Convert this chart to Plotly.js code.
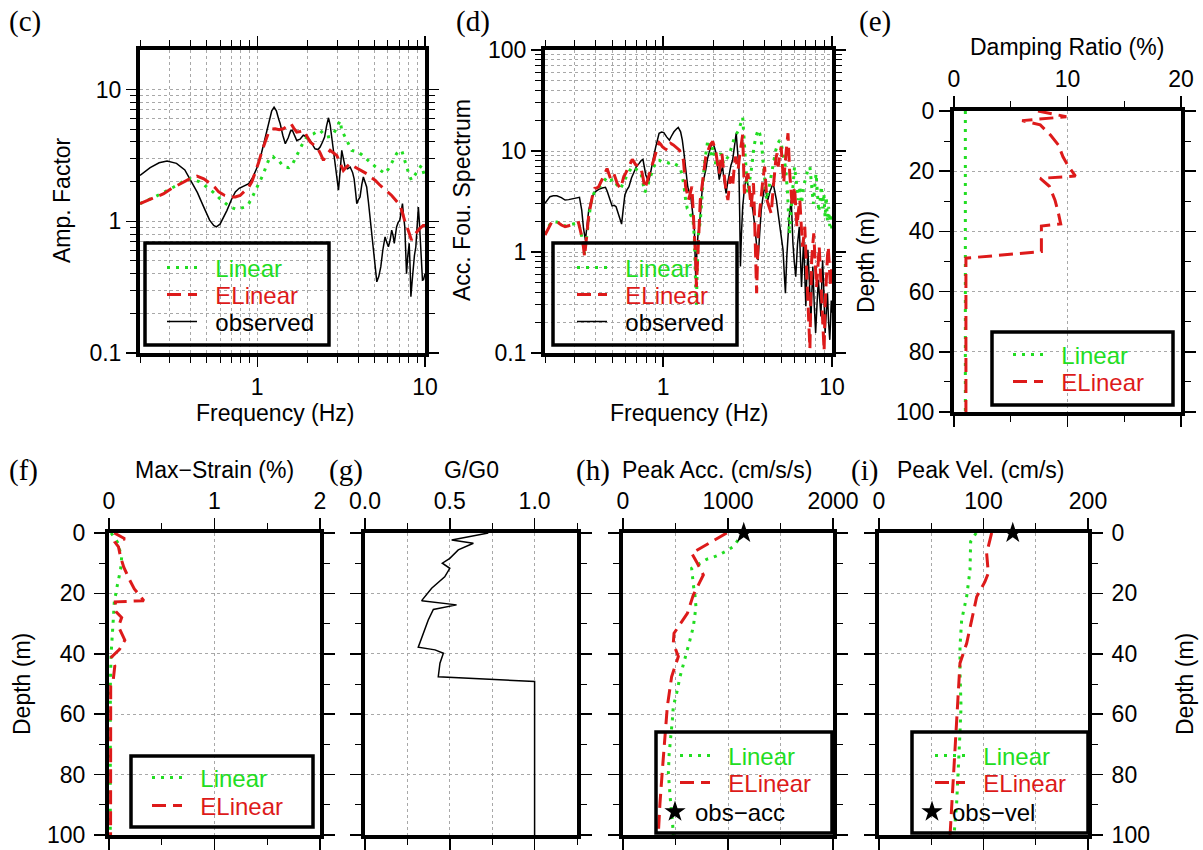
<!DOCTYPE html>
<html><head><meta charset="utf-8">
<script src="https://cdn.plot.ly/plotly-3.0.1.min.js"></script>
<style>html,body{margin:0;padding:0;background:#fff;} #chart{width:1203px;height:850px;}</style>
</head><body><div id="chart"></div>
<script>
// ---------------- DATA ----------------
// (c) amplification factor
const ampFreqObserved = [0.2,0.23,0.26,0.29,0.33,0.37,0.40,0.44,0.48,0.52,0.55,0.57,0.60,0.63,0.66,0.70,0.74,0.78,0.83,0.89,0.94,1.0,1.06,1.12,1.18,1.22,1.26,1.30,1.34,1.37,1.42,1.47,1.53,1.58,1.62,1.67,1.72,1.80,1.88,1.95,2.02,2.07,2.14,2.21,2.30,2.37,2.45,2.52,2.59,2.66,2.72,2.78,2.84,2.91,2.98,3.05,3.12,3.19,3.26,3.34,3.45,3.58,3.70,3.78,3.85,3.92,4.0,4.1,4.2,4.29,4.38,4.49,4.6,4.75,4.9,5.05,5.16,5.3,5.45,5.6,5.78,5.9,6.05,6.2,6.33,6.45,6.56,6.66,6.77,6.92,7.08,7.22,7.34,7.45,7.58,7.67,7.76,7.9,8.05,8.15,8.24,8.38,8.51,8.65,8.82,8.95,9.13,9.25,9.4,9.55,9.66,9.8,10.0];
const ampObserved = [2.23,2.55,2.78,2.86,2.75,2.45,2.05,1.65,1.28,1.02,0.93,0.906,0.95,1.07,1.21,1.45,1.67,1.78,1.84,1.93,2.15,2.58,3.3,4.35,5.7,6.9,7.35,6.9,6.0,5.5,4.5,3.88,4.3,4.85,4.9,4.5,4.1,4.2,4.5,4.4,4.2,4.1,3.8,3.55,3.5,3.66,4.0,4.35,5.3,6.1,5.4,4.35,3.3,2.58,2.0,1.72,2.4,3.45,3.0,2.58,2.5,2.58,2.35,2.1,1.7,1.36,1.45,1.53,1.9,2.17,2.0,1.82,1.4,0.96,0.65,0.42,0.347,0.38,0.45,0.6,0.76,0.7,0.64,0.72,0.855,0.78,0.68,0.78,0.905,0.98,1.02,1.2,1.36,1.1,0.905,0.6,0.40,0.55,0.68,0.45,0.267,0.35,0.45,0.55,0.64,0.9,1.28,1.0,0.72,0.5,0.357,0.36,0.40];
const ampFreqELinear = [0.2,0.24,0.277,0.31,0.348,0.39,0.437,0.48,0.525,0.56,0.589,0.64,0.69,0.74,0.79,0.84,0.89,0.93,0.97,1.02,1.07,1.12,1.17,1.22,1.28,1.35,1.43,1.51,1.59,1.65,1.72,1.80,1.89,1.98,2.07,2.17,2.27,2.37,2.48,2.6,2.72,2.85,2.98,3.12,3.26,3.42,3.58,3.78,4.0,4.24,4.49,4.76,5.04,5.34,5.65,5.98,6.33,6.7,7.1,7.35,7.6,7.95,8.3,8.6,8.9,9.3,9.75,10];
const ampELinear = [1.36,1.5,1.62,1.78,1.93,2.08,2.2,2.1,1.93,1.8,1.67,1.57,1.53,1.53,1.57,1.68,1.82,2.0,2.3,2.8,3.45,4.1,4.75,5.0,5.03,4.95,5.03,5.3,5.5,5.1,4.75,4.8,4.9,4.4,3.99,3.8,3.66,3.3,2.9,3.2,3.45,3.3,3.16,2.75,2.43,2.6,2.74,2.6,2.5,2.4,2.3,2.15,2.05,1.9,1.77,1.67,1.57,1.45,1.32,1.15,0.99,0.85,0.72,0.78,0.83,0.88,0.93,0.93];
const ampFreqLinear = [0.2,0.25,0.318,0.36,0.40,0.45,0.50,0.55,0.60,0.65,0.69,0.74,0.79,0.84,0.89,0.94,1.0,1.05,1.09,1.14,1.19,1.24,1.29,1.34,1.40,1.47,1.54,1.61,1.66,1.72,1.78,1.84,1.90,1.97,2.06,2.16,2.26,2.37,2.48,2.6,2.72,2.84,2.95,3.05,3.12,3.19,3.3,3.42,3.54,3.66,3.83,4.0,4.2,4.39,4.6,4.82,5.05,5.28,5.53,5.78,6.05,6.33,6.55,6.77,7.0,7.26,7.5,7.76,8.0,8.3,8.6,8.9,9.2,9.52,9.75,10];
const ampLinear = [1.36,1.55,1.82,2.0,2.1,2.0,1.82,1.65,1.48,1.35,1.28,1.24,1.25,1.28,1.36,1.55,1.82,2.05,2.3,2.7,3.06,3.1,2.95,2.9,2.7,2.58,2.55,2.66,2.9,3.16,3.45,3.76,4.05,4.35,4.5,4.6,4.8,4.9,4.6,4.35,4.4,4.6,5.0,5.5,5.8,4.9,4.5,4.1,3.7,3.45,3.4,3.35,3.2,3.06,2.9,2.74,2.6,2.5,2.4,2.3,2.5,2.74,3.0,3.26,3.4,3.45,3.0,2.58,2.3,2.05,2.2,2.3,2.5,2.66,2.4,2.15];

// (d) acceleration Fourier spectrum
const fouFreqObserved = [0.2,0.207,0.214,0.224,0.235,0.25,0.263,0.276,0.289,0.305,0.32,0.33,0.338,0.347,0.355,0.363,0.376,0.389,0.402,0.416,0.436,0.456,0.467,0.477,0.488,0.499,0.513,0.527,0.537,0.547,0.558,0.568,0.58,0.594,0.61,0.628,0.65,0.672,0.695,0.72,0.74,0.76,0.775,0.79,0.808,0.825,0.842,0.86,0.882,0.905,0.925,0.947,0.98,1.01,1.05,1.09,1.12,1.16,1.2,1.23,1.27,1.30,1.33,1.36,1.38,1.40,1.43,1.46,1.49,1.53,1.545,1.56,1.58,1.61,1.64,1.67,1.71,1.75,1.79,1.83,1.88,1.92,1.97,2.01,2.06,2.1,2.15,2.2,2.25,2.3,2.36,2.41,2.47,2.52,2.58,2.64,2.71,2.76,2.81,2.84,2.87,2.91,2.96,3.03,3.11,3.18,3.25,3.32,3.40,3.48,3.56,3.65,3.72,3.81,3.9,3.99,4.08,4.17,4.3,4.48,4.58,4.69,4.8,4.9,5.02,5.13,5.22,5.3,5.4,5.49,5.6,5.74,5.8,5.87,5.98,6.1,6.25,6.4,6.5,6.6,6.7,6.8,6.9,7.0,7.1,7.2,7.35,7.5,7.6,7.7,7.85,8.0,8.15,8.3,8.45,8.6,8.7,8.8,8.95,9.1,9.25,9.4,9.55,9.7,9.8,9.9,10];
const fouObserved = [3.03,3.3,3.53,3.6,3.6,3.45,3.27,3.3,3.37,3.42,3.48,2.6,1.72,1.31,1.9,2.6,3.3,3.81,4.0,4.17,4.3,4.37,4.0,3.67,3.2,2.86,2.9,2.81,2.55,2.32,2.1,1.89,2.6,3.67,4.1,4.43,5.4,6.24,7.0,7.5,8.0,8.27,7.0,5.79,5.3,5.16,6.0,7.0,9.0,11.0,13.2,15.0,15.4,15.2,13.8,12.8,14.0,15.5,16.5,17.1,15.5,12.8,9.5,7.0,5.6,4.4,3.9,3.5,2.6,1.78,1.0,0.57,0.9,1.5,1.78,3.0,4.43,5.5,6.5,8.3,10.2,11.2,11.9,11.0,9.5,7.0,5.2,6.2,7.0,5.0,3.8,4.8,6.0,7.2,8.1,11.0,15.0,10.0,7.0,2.5,0.72,1.5,2.81,4.2,5.6,4.6,3.8,3.1,2.6,1.9,1.31,0.83,1.4,2.6,3.5,4.4,3.8,3.27,4.0,4.8,4.0,3.27,2.4,1.78,1.4,1.05,0.6,0.39,0.9,1.53,2.4,3.27,2.0,1.22,0.8,0.57,1.2,1.78,0.9,0.45,0.8,1.31,0.6,0.29,0.6,1.05,0.5,0.21,0.4,0.72,0.3,0.158,0.3,0.53,0.35,0.23,0.5,0.83,0.4,0.158,0.25,0.39,0.2,0.135,0.2,0.33,0.25];
const fouFreqELinear = [0.2,0.21,0.22,0.23,0.24,0.25,0.263,0.276,0.289,0.302,0.316,0.325,0.334,0.343,0.348,0.354,0.362,0.371,0.382,0.394,0.405,0.416,0.431,0.446,0.456,0.466,0.477,0.488,0.499,0.51,0.522,0.534,0.547,0.56,0.573,0.586,0.6,0.613,0.635,0.657,0.672,0.688,0.712,0.737,0.76,0.78,0.793,0.806,0.825,0.845,0.875,0.905,0.925,0.947,0.97,0.99,1.02,1.06,1.085,1.11,1.15,1.19,1.22,1.25,1.29,1.32,1.34,1.36,1.39,1.41,1.43,1.46,1.48,1.5,1.53,1.545,1.56,1.575,1.59,1.62,1.64,1.66,1.69,1.71,1.75,1.79,1.83,1.88,1.92,1.97,2.01,2.06,2.1,2.15,2.19,2.23,2.27,2.31,2.36,2.42,2.46,2.5,2.54,2.58,2.63,2.68,2.73,2.78,2.84,2.9,2.96,2.99,3.03,3.1,3.18,3.25,3.32,3.38,3.43,3.48,3.53,3.56,3.58,3.62,3.66,3.73,3.81,3.9,3.99,4.05,4.12,4.24,4.37,4.47,4.58,4.66,4.73,4.8,4.88,4.95,5.0,5.09,5.18,5.24,5.3,5.4,5.49,5.55,5.62,5.72,5.82,5.9,6.0,6.1,6.2,6.32,6.45,6.58,6.7,6.8,6.9,7.0,7.1,7.25,7.4,7.5,7.58,7.7,7.8,7.95,8.1,8.25,8.4,8.55,8.7,8.85,8.98,9.1,9.25,9.4,9.5,9.65,9.8,9.9,10];
const fouELinear = [1.47,1.75,2.0,2.0,1.95,1.85,1.78,1.82,1.85,1.9,1.95,1.6,1.31,0.9,1.2,1.65,2.2,2.8,3.6,4.27,4.3,4.43,5.1,5.8,6.2,6.7,6.0,5.36,5.7,6.0,5.4,4.8,4.5,4.27,4.9,5.6,6.0,6.5,7.4,8.27,7.8,7.3,7.2,7.0,5.5,4.27,4.6,5.0,5.8,6.5,8.0,9.5,11.0,12.1,11.6,11.0,10.6,10.2,11.0,11.9,11.5,11.0,10.6,10.2,9.0,8.1,6.0,4.43,3.8,3.27,3.5,4.2,4.43,3.0,1.78,1.1,0.83,0.45,0.6,1.13,2.0,3.27,4.0,4.6,6.5,8.8,10.0,11.0,11.8,12.4,11.0,9.5,7.5,6.0,7.8,9.5,7.0,5.2,4.0,3.27,4.3,5.6,5.0,4.43,6.5,8.8,7.5,6.5,9.0,11.9,14.5,8.0,3.8,5.0,6.0,4.0,2.8,3.8,4.8,2.2,1.05,0.6,0.39,0.8,1.53,2.5,3.8,5.2,7.0,5.0,3.27,2.8,2.4,4.0,7.0,8.5,9.5,7.0,8.5,10.0,11.0,7.0,4.8,6.5,8.8,11.5,15.0,9.0,6.0,4.0,2.8,3.5,4.43,2.8,1.78,2.5,3.27,1.8,1.13,1.4,1.78,1.0,0.61,0.3,0.11,0.4,0.83,1.2,1.53,0.8,0.45,0.7,1.13,0.6,0.29,0.18,0.105,0.3,0.61,0.9,1.13,0.7,0.45,0.6,0.8];
const fouFreqLinear = [0.2,0.21,0.22,0.235,0.25,0.263,0.276,0.289,0.302,0.316,0.325,0.334,0.343,0.35,0.36,0.371,0.382,0.394,0.41,0.43,0.446,0.466,0.488,0.51,0.534,0.56,0.586,0.613,0.635,0.657,0.688,0.712,0.737,0.76,0.78,0.806,0.845,0.875,0.905,0.925,0.947,0.99,1.03,1.08,1.12,1.17,1.22,1.25,1.29,1.33,1.36,1.39,1.42,1.46,1.5,1.53,1.56,1.575,1.59,1.62,1.66,1.71,1.75,1.8,1.84,1.88,1.93,1.97,2.02,2.06,2.12,2.2,2.28,2.36,2.45,2.55,2.65,2.8,2.9,2.96,3.03,3.1,3.17,3.25,3.35,3.45,3.55,3.66,3.73,3.81,3.92,4.0,4.1,4.2,4.35,4.5,4.65,4.8,4.9,5.0,5.15,5.3,5.45,5.6,5.72,5.85,6.0,6.15,6.3,6.45,6.6,6.8,7.0,7.2,7.4,7.5,7.6,7.75,7.9,8.05,8.2,8.35,8.5,8.65,8.8,8.95,9.1,9.25,9.4,9.55,9.7,9.85,10];
const fouLinear = [1.5,1.8,2.0,1.98,1.9,1.8,1.85,1.88,1.92,1.95,1.6,1.3,0.95,1.3,2.0,2.8,3.5,4.0,4.2,4.6,5.0,5.5,5.1,5.3,4.6,4.2,5.0,5.8,6.4,7.0,6.6,6.4,6.2,5.0,3.9,4.4,5.6,6.8,7.6,8.1,8.1,7.8,7.8,7.6,7.8,7.5,7.2,7.0,6.0,4.5,3.27,2.7,2.6,2.3,2.24,1.4,0.45,0.3,0.6,1.53,2.0,4.4,7.0,10.0,12.8,11.5,9.0,11.0,8.0,7.0,8.5,9.5,7.5,8.1,9.0,11.0,13.8,16.0,20.0,21.5,11.9,7.0,3.8,5.0,7.0,11.0,14.0,16.2,15.0,12.8,7.0,5.0,3.27,4.0,5.5,8.0,10.2,12.0,12.8,11.9,9.0,7.0,4.0,1.5,2.5,4.5,7.0,5.0,3.27,4.5,3.0,4.5,5.5,6.5,7.0,5.6,4.5,3.0,4.43,6.0,3.8,2.5,3.27,4.5,2.7,3.8,2.2,3.5,2.0,2.8,1.8,2.4,1.53];

// (e) damping ratio profile
const dampDepthLinear = [0, 100];
const dampLinear = [1.0, 1.0];
const dampDepthELinear = [0, 1.9, 3.2, 4.6, 8, 11.3, 15.2, 18.5, 21.6, 22.4, 25, 29.6, 34, 37.5, 38.2, 46.7, 48.9, 100];
const dampELinear = [7.4, 9.9, 6.0, 7.6, 8.5, 9.2, 9.6, 10.1, 10.7, 7.6, 8.4, 8.9, 9.2, 9.4, 7.7, 7.7, 1.05, 1.05];

// (f) maximum strain profile
const strainDepthLinear = [0, 3, 8, 12, 18, 23, 29, 34, 40, 50, 100];
const strainLinear = [0.02, 0.08, 0.12, 0.11, 0.075, 0.05, 0.04, 0.028, 0.02, 0.013, 0.012];
const strainDepthELinear = [0, 1.9, 3.2, 4.6, 8, 11.3, 15.2, 18.5, 22.4, 22.8, 26, 28, 31, 35.5, 38.5, 41, 44, 48.7, 50.5, 100];
const strainELinear = [0.05, 0.15, 0.06, 0.09, 0.11, 0.14, 0.19, 0.24, 0.33, 0.06, 0.065, 0.12, 0.09, 0.15, 0.10, 0.025, 0.055, 0.04, 0.016, 0.015];

// (g) G/G0 profile
const ggDepth = [0, 2.3, 3.4, 5.6, 8.4, 10, 11.7, 14.5, 18.3, 22.4, 23.8, 25.3, 28.8, 33.2, 37.8, 38.7, 39.8, 43.1, 47.6, 49.2, 100];
const ggRatio = [0.727, 0.511, 0.639, 0.55, 0.50, 0.456, 0.50, 0.47, 0.393, 0.334, 0.54, 0.403, 0.373, 0.344, 0.314, 0.413, 0.462, 0.442, 0.432, 1.0, 1.0];

// (h) peak acceleration profile
const accDepthLinear = [0, 4.5, 6.2, 7.6, 8.7, 11.7, 17.2, 20.5, 24.4, 27.7, 31, 35.4, 39.3, 43.1, 47.6, 53, 57.5, 61.9, 67.4, 73, 79.6, 84, 89.5, 95, 100];
const accLinear = [1146, 1051, 971, 892, 797, 654, 670, 685, 695, 686, 670, 638, 606, 575, 543, 511, 479, 470, 455, 440, 432, 440, 454, 470, 479];
const accDepthELinear = [0, 6.7, 10, 13.9, 20.5, 26.6, 33.2, 36.5, 40.9, 47.6, 57.5, 66.3, 78.5, 89.5, 100];
const accELinear = [988, 654, 708, 765, 670, 613, 486, 479, 527, 463, 422, 400, 375, 352, 336];
const obsAccDepth = [0];
const obsAcc = [1150];

// (i) peak velocity profile
const velDepthLinear = [0, 2.8, 12.3, 21, 28.8, 37.6, 46, 57.5, 66, 79.5, 89.5, 100];
const velLinear = [93, 87.7, 87.1, 83.9, 79.1, 77.5, 77.5, 78.5, 77.5, 75.9, 74.3, 71.8];
const velDepthELinear = [0, 6.7, 13.3, 16.1, 21.1, 28.8, 36.5, 43.1, 53, 64, 77.3, 89.5, 100];
const velELinear = [107.8, 103, 104.6, 101.4, 93.5, 88.7, 83.9, 77.5, 75.9, 73.7, 71.8, 69.5, 68];
const obsVelDepth = [0];
const obsVel = [128];

// ---------------- LAYOUT HELPERS ----------------
const W = 1203, H = 850;
const px = v => v / W;
const py = v => 1 - v / H;
const FONT = 'Liberation Sans, Arial, Helvetica, sans-serif';
const SERIF = 'Liberation Serif, Times New Roman, serif';
const GREEN = '#22dd22', RED = '#dd1a1a', BLACK = '#000000';
const GRID = '#a8a8a8';
const NB = '\u00a0\u00a0';
const TICK_SIZE = 23, TITLE_SIZE = 23, LEGEND_SIZE = 24;

const lineStyles = {
  linear: {color: GREEN, width: 3, dash: '3px,6px'},
  elinear: {color: RED, width: 3, dash: '14px,7px'},
  observed: {color: BLACK, width: 1.5},
  gg: {color: BLACK, width: 1.5}
};

function baseAxis(extra) {
  return Object.assign({
    showline: true, linewidth: 4, linecolor: '#000', mirror: 'allticks',
    ticks: 'outside', ticklen: 11, tickwidth: 1.5, tickcolor: '#000',
    showgrid: true, gridcolor: GRID, gridwidth: 1, griddash: 'dot',
    zeroline: false, fixedrange: true,
    tickfont: {family: FONT, size: TICK_SIZE, color: '#000'}
  }, extra);
}
function minorAx(dtick, grid) {
  return {dtick: dtick, ticks: 'outside', ticklen: 6, tickwidth: 1, tickcolor: '#000',
          showgrid: grid, gridcolor: GRID, griddash: 'dot', gridwidth: 1};
}
function logX(dom, anchor) {
  return baseAxis({type: 'log', domain: [px(dom[0]), px(dom[1])], range: [Math.log10(0.2), 1],
    dtick: 1, anchor: anchor, minor: minorAx('D1', true), ticklen: 10});
}
function logY(dom, range, anchor) {
  return baseAxis({type: 'log', domain: [py(dom[1]), py(dom[0])], range: range,
    dtick: 1, anchor: anchor, minor: minorAx('D1', true), ticklen: 10});
}
function topX(dom, range, dtick, minorDtick, minorGrid, anchor, extra) {
  return baseAxis(Object.assign({domain: [px(dom[0]), px(dom[1])], range: range, side: 'top',
    tick0: 0, dtick: dtick, anchor: anchor, minor: minorAx(minorDtick, minorGrid)}, extra || {}));
}
function depthY(dom, anchor, extra) {
  return baseAxis(Object.assign({domain: [py(dom[1]), py(dom[0])], range: [100, 0],
    tick0: 0, dtick: 20, anchor: anchor, minor: minorAx(10, false)}, extra || {}));
}

// panel boxes (pixels)
const rowTop = [50, 353], rowBottom = [533, 835];

const layout = {
  width: W, height: H, autosize: false,
  margin: {l: 0, r: 0, t: 0, b: 0, pad: 0},
  paper_bgcolor: '#fff', plot_bgcolor: 'rgba(0,0,0,0)',
  hovermode: false, showlegend: true,
  xaxis: logX([140, 425], 'y'),
  yaxis: logY(rowTop, [-1, 1.3], 'x'),
  xaxis2: logX([545, 832], 'y2'),
  yaxis2: logY(rowTop, [-1, 2], 'x2'),
  xaxis3: topX([954, 1181], [0, 20], 10, 5, false, 'y3'),
  yaxis3: depthY([111, 412], 'x3'),
  xaxis4: topX([109, 320], [0, 2], 1, 0.5, false, 'y4'),
  yaxis4: depthY(rowBottom, 'x4', {ticklabelstandoff: 4}),
  xaxis5: topX([365, 577], [0, 1.25], 0.5, 0.25, true, 'y5', {tickformat: '.1f'}),
  yaxis5: depthY(rowBottom, 'x5', {showticklabels: false}),
  xaxis6: topX([623, 833], [0, 2000], 1000, 500, true, 'y6', {layer: 'below traces'}),
  yaxis6: depthY(rowBottom, 'x6', {showticklabels: false, layer: 'below traces'}),
  xaxis7: topX([879, 1088], [0, 200], 100, 50, true, 'y7', {layer: 'below traces'}),
  yaxis7: depthY(rowBottom, 'x7', {side: 'right', ticklabelstandoff: 4, layer: 'below traces'}),
  annotations: [],
  shapes: []
};

// titles & panel letters
function ann(text, x, y, opts) {
  layout.annotations.push(Object.assign({text: text, x: px(x), y: py(y), xref: 'paper', yref: 'paper',
    showarrow: false, xanchor: 'center', yanchor: 'middle',
    font: {family: FONT, size: TITLE_SIZE, color: '#000'}}, opts || {}));
}
const letterFont = {family: SERIF, size: 29, color: '#000'};
ann('(c)', 7, 22, {xanchor: 'left', font: letterFont});
ann('(d)', 454, 22, {xanchor: 'left', font: letterFont});
ann('(e)', 857, 22, {xanchor: 'left', font: letterFont});
ann('(f)', 7, 470, {xanchor: 'left', font: letterFont});
ann('(g)', 327, 470, {xanchor: 'left', font: letterFont});
ann('(h)', 574, 470, {xanchor: 'left', font: letterFont});
ann('(i)', 849, 470, {xanchor: 'left', font: letterFont});
ann('Amp. Factor', 62, 200, {textangle: -90});
ann('Frequency (Hz)', 275, 413);
ann('Acc. Fou. Spectrum', 462, 200, {textangle: -90});
ann('Frequency (Hz)', 689, 413);
ann('Damping Ratio (%)', 1067, 47);
ann('Depth (m)', 866, 262, {textangle: -90});
ann('Max\u2212Strain (%)', 214, 470);
ann('G/G0', 471, 470);
ann('Peak Acc. (cm/s/s)', 717, 470);
ann('Peak Vel. (cm/s)', 980, 470);
ann('Depth (m)', 22, 684, {textangle: -90});
ann('Depth (m)', 1185, 684, {textangle: -90});

// legend frames
const legendBoxes = [[145, 243, 329, 345], [553, 243, 737, 345], [992, 332, 1173, 405],
                     [131, 756, 313, 827], [656, 732, 832, 833], [912, 732, 1088, 833]];
legendBoxes.forEach(b => layout.shapes.push({type: 'rect', xref: 'paper', yref: 'paper',
  x0: px(b[0]), x1: px(b[2]), y0: py(b[3]), y1: py(b[1]), layer: 'above',
  line: {color: '#000', width: 3.5}, fillcolor: 'rgba(0,0,0,0)'}));

// ---------------- TRACES ----------------
const traces = [];
let legendCount = 0;
function addLegend(textX, centerY, color, isMarker) {
  legendCount += 1;
  const key = legendCount === 1 ? 'legend' : 'legend' + legendCount;
  const left = isMarker ? textX - 40 : textX - 53;
  layout[key] = {x: px(left), y: py(centerY), xref: 'paper', yref: 'paper',
    xanchor: 'left', yanchor: 'middle', bgcolor: 'rgba(0,0,0,0)', borderwidth: 0,
    font: {family: FONT, size: LEGEND_SIZE, color: color}, itemclick: false, itemdoubleclick: false};
  return key;
}
function line(x, y, xa, ya, style, name, leg) {
  const t = {type: 'scatter', mode: 'lines', x: x, y: y, xaxis: xa, yaxis: ya,
    line: Object.assign({}, lineStyles[style]), showlegend: !!leg, hoverinfo: 'skip'};
  if (leg) { t.name = NB + name; t.legend = addLegend(leg[0], leg[1], lineStyles[style].color, false); }
  traces.push(t);
}
function star(x, y, xa, ya, name, leg) {
  traces.push({type: 'scatter', mode: 'markers', x: x, y: y, xaxis: xa, yaxis: ya, cliponaxis: false,
    marker: {symbol: 'star', size: 16, color: '#000'}, name: name,
    legend: addLegend(leg[0], leg[1], '#000', true), showlegend: true, hoverinfo: 'skip'});
}

// (c)
line(ampFreqObserved, ampObserved, 'x', 'y', 'observed', 'observed', [215, 322]);
line(ampFreqLinear, ampLinear, 'x', 'y', 'linear', 'Linear', [215, 268]);
line(ampFreqELinear, ampELinear, 'x', 'y', 'elinear', 'ELinear', [215, 295]);
// (d)
line(fouFreqObserved, fouObserved, 'x2', 'y2', 'observed', 'observed', [625, 322]);
line(fouFreqLinear, fouLinear, 'x2', 'y2', 'linear', 'Linear', [625, 268]);
line(fouFreqELinear, fouELinear, 'x2', 'y2', 'elinear', 'ELinear', [625, 295]);
// (e)
line(dampLinear, dampDepthLinear, 'x3', 'y3', 'linear', 'Linear', [1061, 355]);
line(dampELinear, dampDepthELinear, 'x3', 'y3', 'elinear', 'ELinear', [1061, 382]);
// (f)
line(strainLinear, strainDepthLinear, 'x4', 'y4', 'linear', 'Linear', [200, 778]);
line(strainELinear, strainDepthELinear, 'x4', 'y4', 'elinear', 'ELinear', [200, 806]);
// (g)
line(ggRatio, ggDepth, 'x5', 'y5', 'gg', 'G/G0', null);
// (h)
line(accLinear, accDepthLinear, 'x6', 'y6', 'linear', 'Linear', [728, 756]);
line(accELinear, accDepthELinear, 'x6', 'y6', 'elinear', 'ELinear', [728, 783]);
star(obsAcc, obsAccDepth, 'x6', 'y6', 'obs\u2212acc', [695, 812]);
// (i)
line(velLinear, velDepthLinear, 'x7', 'y7', 'linear', 'Linear', [983, 756]);
line(velELinear, velDepthELinear, 'x7', 'y7', 'elinear', 'ELinear', [983, 783]);
star(obsVel, obsVelDepth, 'x7', 'y7', 'obs\u2212vel', [952, 812]);

Plotly.newPlot('chart', traces, layout, {staticPlot: true, displayModeBar: false});
</script></body></html>
